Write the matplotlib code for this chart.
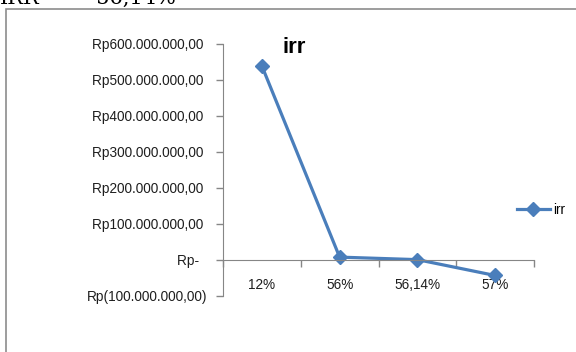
import matplotlib.pyplot as plt
from matplotlib.patches import Rectangle

# data
categories = ['12%', '56%', '56,14%', '57%']
irr_values = [539e6, 8e6, 1e6, -43e6]
y_ticks = [-100e6, 0, 100e6, 200e6, 300e6, 400e6, 500e6, 600e6]
y_tick_labels = ['Rp(100.000.000,00)', 'Rp-  ', 'Rp100.000.000,00 ', 'Rp200.000.000,00 ',
                 'Rp300.000.000,00 ', 'Rp400.000.000,00 ', 'Rp500.000.000,00 ', 'Rp600.000.000,00 ']

line_color = '#4A7EBB'
axis_color = '#868686'
text_color = '#1e1e1e'
font = 'Liberation Sans'
label_size = 9.8

W, H = 576, 352
fig = plt.figure(figsize=(W / 100, H / 100), dpi=100)

# chart frame (runs off the page on the right and bottom)
fig.patches.append(Rectangle((6 / W, -0.2), 1.2, 1.2 - 9 / H, transform=fig.transFigure,
                             fill=False, edgecolor='#8c8c8c', linewidth=1.2, clip_on=False))

# clipped line of text above the chart
fig.text(0 / W, 1 - 4 / H, 'IRR', family='DejaVu Serif', fontsize=15, va='baseline', ha='left')
fig.text(72 / W, 1 - 4 / H, '= 56,14%', family='DejaVu Serif', fontsize=15, va='baseline', ha='left')

ax = fig.add_axes([223 / W, 1 - 296 / H, (534 - 223) / W, (296 - 44) / H])
x = list(range(len(categories)))
ax.plot(x, irr_values, color=line_color, linewidth=2.3, marker='D', markersize=7,
        label='irr', solid_joinstyle='round')

ax.set_xlim(-0.5, len(categories) - 0.5)
ax.set_ylim(-100e6, 600e6)

for side in ['top', 'right']:
    ax.spines[side].set_visible(False)
ax.spines['left'].set_color(axis_color)
ax.spines['bottom'].set_color(axis_color)
ax.spines['bottom'].set_position(('data', 0))

ax.set_yticks(y_ticks)
ax.set_yticklabels(y_tick_labels, family=font, fontsize=label_size, color=text_color)
ax.tick_params(axis='y', length=5, width=1, color=axis_color, pad=6.5)

# boundaries get tick marks, centres carry the labels
ax.set_xticks([i - 0.5 for i in range(len(categories) + 1)])
ax.set_xticklabels([])
ax.tick_params(axis='x', which='major', length=5, width=1, color=axis_color, direction='out')
ax.set_xticks(x, minor=True)
ax.set_xticklabels(categories, minor=True, family=font, fontsize=label_size, color=text_color)
ax.tick_params(axis='x', which='minor', length=0, pad=13)

fig.text(294 / W, 1 - 53 / H, 'irr', family=font, fontweight='bold', fontsize=16,
         ha='center', va='baseline')

fig.legend(loc='center left', bbox_to_anchor=(517 / W, 1 - 210 / H), frameon=False,
           prop={'family': font, 'size': label_size}, handlelength=2.4, handletextpad=0.25,
           borderpad=0, borderaxespad=0)

fig.savefig('out.png', dpi=100)
